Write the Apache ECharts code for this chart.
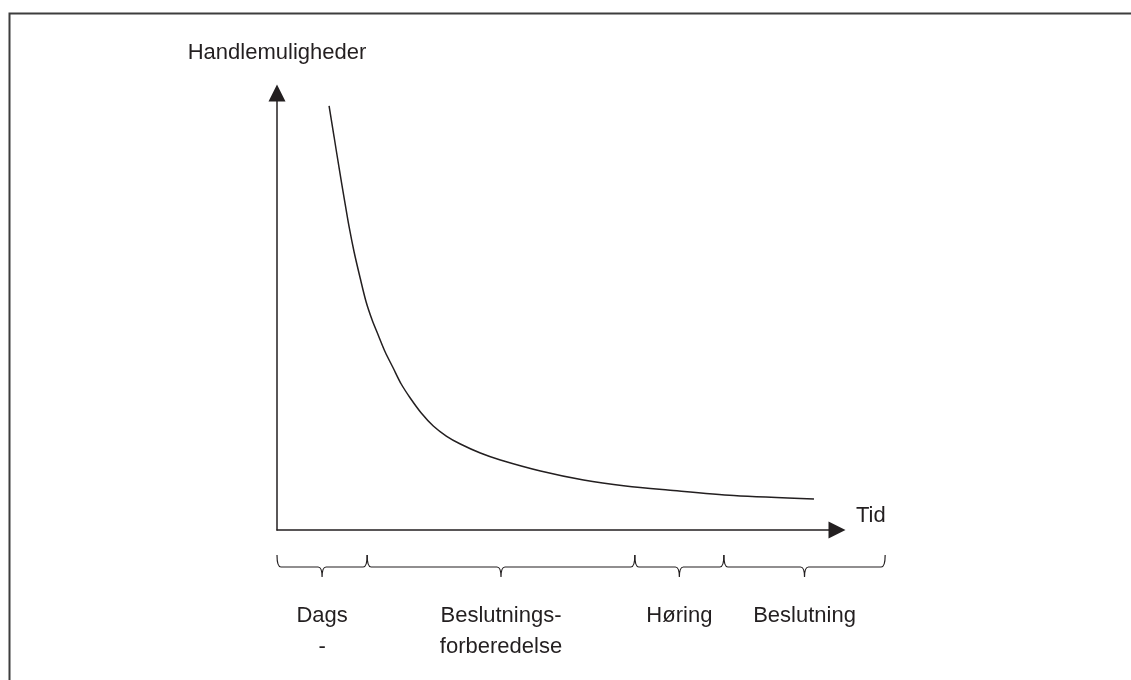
<!DOCTYPE html>
<html>
<head>
<meta charset="utf-8">
<script src="https://cdn.jsdelivr.net/npm/echarts@6/dist/echarts.min.js"></script>
<style>
html,body{margin:0;padding:0;background:#fff;}
#chart{width:1131px;height:680px;}
</style>
</head>
<body>
<div id="chart"></div>
<script>
// Curve: options for action (Handlemuligheder) over time (Tid)
var curveX = [9.30, 10.20, 11.09, 11.99, 12.88, 13.77, 14.85, 15.92, 16.99, 18.07, 19.32, 20.75, 22.18, 23.79, 25.76, 27.91, 30.23, 32.74, 36.31, 39.89, 47.05, 54.74, 62.25, 69.77, 81.57, 95.89];
var curveY = [97.03, 89.93, 82.84, 75.97, 69.34, 63.62, 57.67, 52.17, 48.05, 44.62, 40.73, 37.07, 33.41, 30.21, 26.77, 23.80, 21.51, 19.68, 17.62, 16.02, 13.50, 11.44, 10.07, 9.15, 7.89, 7.09];

// Phases shown as braces under the time axis
var phaseNames = ['Dags\n-', 'Beslutnings-\nforberedelse', 'Høring', 'Beslutning'];
var phaseStart = [0, 16.1, 63.9, 79.8];
var phaseEnd = [16.1, 63.9, 79.8, 108.6];

var yAxisTitle = 'Handlemuligheder';
var xAxisTitle = 'Tid';

var INK = '#231f20';
var FONT = '"Liberation Sans", Arial, Helvetica, sans-serif';

var curveData = curveX.map(function (x, i) { return [x, curveY[i]]; });
var phaseData = phaseNames.map(function (n, i) { return [phaseStart[i], phaseEnd[i], n]; });

var chart = echarts.init(document.getElementById('chart'), null, {renderer: 'canvas'});

var option = {
  backgroundColor: '#fff',
  animation: false,
  grid: {left: 277, right: 294, top: 93, bottom: 150, containLabel: false},
  xAxis: {
    type: 'value', min: 0, max: 100,
    name: xAxisTitle, nameLocation: 'end', nameGap: 19,
    nameTextStyle: {color: INK, fontSize: 22, fontFamily: FONT, align: 'left', verticalAlign: 'bottom', padding: [0, 0, 3, 0]},
    axisLine: {show: true, symbol: ['none', 'triangle'], symbolSize: [17, 17], lineStyle: {color: INK, width: 1.5}},
    axisTick: {show: false}, axisLabel: {show: false}, splitLine: {show: false}
  },
  yAxis: {
    type: 'value', min: 0, max: 100,
    name: yAxisTitle, nameLocation: 'end', nameGap: 29,
    nameTextStyle: {color: INK, fontSize: 22, fontFamily: FONT, align: 'center'},
    axisLine: {show: true, symbol: ['none', 'triangle'], symbolSize: [17, 17], lineStyle: {color: INK, width: 1.5}},
    axisTick: {show: false}, axisLabel: {show: false}, splitLine: {show: false}
  },
  graphic: [{
    type: 'rect', left: 7, top: 11, silent: true,
    shape: {x: 0, y: 0, width: 1400, height: 900},
    style: {fill: 'none', stroke: '#3d3d3d', lineWidth: 2}
  }],
  series: [{
    type: 'line',
    data: curveData,
    smooth: 0.3,
    showSymbol: false,
    lineStyle: {color: INK, width: 1.5}
  }, {
    type: 'custom',
    clip: false,
    data: phaseData,
    renderItem: function (params, api) {
      var a = api.coord([api.value(0), 0]);
      var b = api.coord([api.value(1), 0]);
      var xa = a[0], xb = b[0], y0 = a[1];
      var xm = (xa + xb) / 2;
      var yt = y0 + 25, yl = y0 + 37, yb = y0 + 47;
      var p = 'M' + xa + ' ' + yt +
        ' Q' + xa + ' ' + yl + ' ' + (xa + 4) + ' ' + yl +
        ' L' + (xm - 4) + ' ' + yl +
        ' Q' + xm + ' ' + yl + ' ' + xm + ' ' + yb +
        ' Q' + xm + ' ' + yl + ' ' + (xm + 4) + ' ' + yl +
        ' L' + (xb - 4) + ' ' + yl +
        ' Q' + xb + ' ' + yl + ' ' + xb + ' ' + yt;
      return {
        type: 'group',
        children: [{
          type: 'path',
          shape: {pathData: p},
          style: {fill: 'none', stroke: INK, lineWidth: 1.2}
        }, {
          type: 'text',
          style: {
            text: phaseNames[params.dataIndex],
            x: xm, y: y0 + 70,
            align: 'center', verticalAlign: 'top',
            fontSize: 22, fontFamily: FONT, lineHeight: 31, fill: INK
          }
        }]
      };
    }
  }]
};
chart.setOption(option);
</script>
</body>
</html>
